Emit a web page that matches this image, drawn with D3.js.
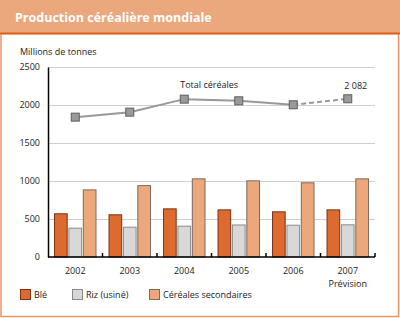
<!DOCTYPE html>
<html>
<head>
<meta charset="utf-8">
<script src="https://cdn.jsdelivr.net/npm/d3@7"></script>
<style>
  body { margin: 0; background: #fff; }
  svg { display: block; font-family: "Open Sans", sans-serif; }
</style>
</head>
<body>
<div id="chart"></div>
<script>
const years = ['2002', '2003', '2004', '2005', '2006', '2007'];
const wheat = [575, 562, 640, 627, 601, 627];
const rice = [386, 399, 412, 428, 425, 430];
const coarse = [890, 946, 1035, 1009, 983, 1035];
const total = [1840, 1906, 2077, 2055, 2003, 2082];
const yTicks = [0, 500, 1000, 1500, 2000, 2500];
const seriesNames = ['Blé', 'Riz (usiné)', 'Céréales secondaires'];

const W = 400, H = 318;
const margin = {top: 67, right: 25, bottom: 61, left: 48};
const width = W - margin.left - margin.right;
const height = H - margin.top - margin.bottom;
const fs = 9;

const colors = ['#dd6a2e', '#d8d8d8', '#eca77a'];
const strokes = ['#7a3417', '#8a8a8a', '#7d6a60'];

const svg = d3.select('#chart').append('svg')
  .attr('width', W).attr('height', H);

// header band + frame
svg.append('rect').attr('x', 0).attr('y', 0).attr('width', W).attr('height', 33)
  .attr('fill', '#eaa87c');
svg.append('rect').attr('x', 1).attr('y', 33.5).attr('width', W - 2.5).attr('height', H - 35)
  .attr('fill', 'none').attr('stroke', '#e8956a').attr('stroke-width', 1.5);
svg.append('line').attr('x1', 0).attr('x2', W).attr('y1', 33.5).attr('y2', 33.5)
  .attr('stroke', '#e0601e').attr('stroke-width', 2);
svg.append('text').attr('x', 15).attr('y', 21.5)
  .attr('fill', '#fff').attr('font-size', 12.5).attr('font-weight', 'bold')
  .text('Production céréalière mondiale');

const g = svg.append('g').attr('transform', `translate(${margin.left},${margin.top})`);

const x = d3.scaleBand().domain(years).range([0, width]);
const xs = d3.scaleBand().domain([0, 1, 2]).range([6, x.bandwidth() - 6]).paddingInner(0.05);
const y = d3.scaleLinear().domain([0, 2500]).range([height, 0]);

// gridlines
g.append('g').selectAll('line').data(yTicks.slice(1)).join('line')
  .attr('x1', 0).attr('x2', width)
  .attr('y1', d => y(d) + 0.5).attr('y2', d => y(d) + 0.5)
  .attr('stroke', '#cfcfcf').attr('stroke-width', 1);

// y axis
const yAxis = g.append('g')
  .call(d3.axisLeft(y).tickValues(yTicks).tickFormat(d3.format('d')).tickSize(0).tickPadding(8));
yAxis.select('.domain').attr('stroke', '#000').attr('stroke-width', 1.5);
yAxis.selectAll('text').attr('font-size', fs).attr('fill', '#222')
  .attr('font-family', '"Open Sans", sans-serif');

g.append('text').attr('x', 20 - margin.left).attr('y', -12)
  .attr('font-size', fs).attr('fill', '#222').text('Millions de tonnes');

// bars
const data = years.map((yr, i) => ({yr, vals: [wheat[i], rice[i], coarse[i]]}));
const grp = g.selectAll('.grp').data(data).join('g')
  .attr('transform', d => `translate(${x(d.yr)},0)`);
grp.selectAll('rect').data(d => d.vals.map((v, k) => ({v, k}))).join('rect')
  .attr('x', d => xs(d.k) + 0.5)
  .attr('y', d => y(d.v) + 0.5)
  .attr('width', xs.bandwidth() - 1)
  .attr('height', d => height - y(d.v) - 0.5)
  .attr('fill', d => colors[d.k])
  .attr('stroke', d => strokes[d.k]).attr('stroke-width', 1);

// x axis
g.append('line').attr('x1', 0).attr('x2', width).attr('y1', height).attr('y2', height)
  .attr('stroke', '#000').attr('stroke-width', 1.5);
g.append('g').selectAll('line').data(years).join('line')
  .attr('x1', d => x(d) + x.bandwidth())
  .attr('x2', d => x(d) + x.bandwidth())
  .attr('y1', height).attr('y2', height - 4)
  .attr('stroke', '#000').attr('stroke-width', 1.5);
g.append('g').selectAll('text').data(years).join('text')
  .attr('x', d => x(d) + x.bandwidth() / 2).attr('y', height + 17)
  .attr('text-anchor', 'middle').attr('font-size', fs).attr('fill', '#222')
  .text(d => d);
g.append('text').attr('x', x('2007') + x.bandwidth() / 2).attr('y', height + 30)
  .attr('text-anchor', 'middle').attr('font-size', fs).attr('fill', '#222')
  .text('Prévision');

// total line
const cx = d => x(d) + x.bandwidth() / 2;
const pts = years.map((yr, i) => [cx(yr), y(total[i])]);
const line = d3.line();
g.append('path').datum(pts.slice(0, 5)).attr('d', line)
  .attr('fill', 'none').attr('stroke', '#999').attr('stroke-width', 2);
g.append('path').datum(pts.slice(4)).attr('d', line)
  .attr('fill', 'none').attr('stroke', '#999').attr('stroke-width', 2)
  .attr('stroke-dasharray', '5,3');
g.selectAll('.mk').data(pts).join('rect')
  .attr('x', d => d[0] - 4).attr('y', d => d[1] - 4)
  .attr('width', 8).attr('height', 8)
  .attr('fill', '#9a9a9a').attr('stroke', '#5e5e5e').attr('stroke-width', 1);
g.append('text').attr('x', cx('2004') - 4).attr('y', y(total[2]) - 11)
  .attr('font-size', fs).attr('fill', '#222').text('Total céréales');
g.append('text').attr('x', cx('2007') + 8).attr('y', y(total[5]) - 10)
  .attr('text-anchor', 'middle').attr('font-size', fs).attr('fill', '#222')
  .text('2 082');

// legend
const legX = [20, 72, 149];
const leg = svg.append('g').selectAll('g').data(seriesNames).join('g')
  .attr('transform', (d, i) => `translate(${legX[i]},289)`);
leg.append('rect').attr('x', 0.5).attr('y', 0.5).attr('width', 10).attr('height', 10)
  .attr('fill', (d, i) => colors[i]).attr('stroke', (d, i) => strokes[i]);
leg.append('text').attr('x', 14).attr('y', 9).attr('font-size', fs).attr('fill', '#222')
  .text(d => d);
</script>
</body>
</html>
